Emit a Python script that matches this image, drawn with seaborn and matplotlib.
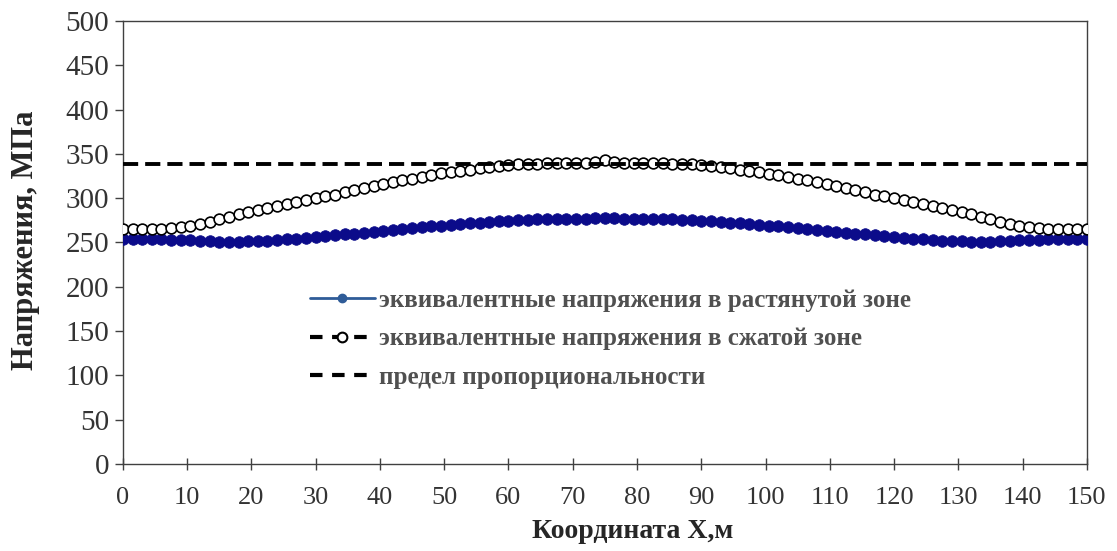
import matplotlib
matplotlib.use("Agg")
import matplotlib.pyplot as plt
from matplotlib.lines import Line2D
import seaborn as sns

# Координата X, м (шаг 1.5 м)
x_coord = [0, 1.5, 3, 4.5, 6, 7.5, 9, 10.5, 12, 13.5, 15, 16.5, 18, 19.5, 21, 22.5,
           24, 25.5, 27, 28.5, 30, 31.5, 33, 34.5, 36, 37.5, 39, 40.5, 42, 43.5, 45,
           46.5, 48, 49.5, 51, 52.5, 54, 55.5, 57, 58.5, 60, 61.5, 63, 64.5, 66, 67.5,
           69, 70.5, 72, 73.5, 75, 76.5, 78, 79.5, 81, 82.5, 84, 85.5, 87, 88.5, 90,
           91.5, 93, 94.5, 96, 97.5, 99, 100.5, 102, 103.5, 105, 106.5, 108, 109.5,
           111, 112.5, 114, 115.5, 117, 118.5, 120, 121.5, 123, 124.5, 126, 127.5, 129,
           130.5, 132, 133.5, 135, 136.5, 138, 139.5, 141, 142.5, 144, 145.5, 147,
           148.5, 150]

# эквивалентные напряжения в растянутой зоне, МПа
tension = [254, 254, 254, 254, 254, 253, 253, 253, 252, 252, 251, 251, 251, 252, 252,
           252, 253, 254, 254, 255, 256, 257, 258, 259, 260, 261, 262, 263, 264, 265,
           266, 267, 268, 269, 270, 271, 272, 272, 273, 274, 274, 275, 275, 276, 276,
           276, 276, 277, 277, 278, 278, 278, 277, 277, 276, 276, 276, 276, 275, 275,
           274, 274, 273, 272, 272, 271, 270, 269, 268, 267, 266, 265, 264, 263, 262,
           261, 260, 259, 258, 257, 256, 255, 254, 254, 253, 252, 252, 252, 251, 251,
           251, 252, 252, 253, 253, 253, 254, 254, 254, 254, 254]

# эквивалентные напряжения в сжатой зоне, МПа
compression = [265, 265, 265, 265, 265, 266, 267, 269, 271, 273, 276, 279, 282, 284,
               287, 289, 291, 293, 296, 298, 300, 302, 304, 307, 309, 312, 314, 316,
               318, 320, 322, 324, 326, 328, 329, 331, 332, 334, 335, 336, 337, 338,
               339, 339, 340, 340, 340, 340, 340, 341, 343, 341, 340, 340, 340, 340,
               340, 339, 339, 338, 337, 336, 335, 334, 332, 331, 329, 327, 326, 324,
               322, 320, 318, 316, 314, 312, 309, 307, 304, 302, 300, 298, 296, 293,
               291, 289, 287, 284, 282, 279, 276, 273, 271, 269, 267, 266, 265, 265,
               265, 265, 265]

# предел пропорциональности, МПа
prop_limit = 338

labels = ["эквивалентные напряжения в растянутой зоне",
          "эквивалентные напряжения в сжатой зоне",
          "предел пропорциональности"]

sns.set_style("white")
plt.rcParams["font.family"] = ["Liberation Serif", "DejaVu Serif"]

fig = plt.figure(figsize=(11.17, 5.51), dpi=100)
ax = fig.add_axes([0.110, 0.158, 0.863, 0.804])

sns.scatterplot(x=x_coord, y=tension, ax=ax, s=70, color="#0b0b8a",
                edgecolor="#0b0b8a", linewidth=0.5, zorder=3)
sns.scatterplot(x=x_coord, y=compression, ax=ax, s=60, facecolor="white",
                edgecolor="black", linewidth=1.2, zorder=3)
ax.axhline(prop_limit, color="black", lw=2.8, ls=(0, (3.9, 1.8)), zorder=4)

ax.set_xlim(0, 150)
ax.set_ylim(0, 500)
ax.set_xticks(range(0, 151, 10))
ax.set_yticks(range(0, 501, 50))

for side in ["left", "bottom", "right", "top"]:
    ax.spines[side].set_color("#404040")
    ax.spines[side].set_linewidth(1.0)

ax.tick_params(axis="x", direction="inout", length=9, width=1, color="#404040",
               labelsize=19, labelcolor="#333333", pad=12, bottom=True)
ax.tick_params(axis="y", direction="out", length=6, width=1, color="#404040",
               labelsize=21, labelcolor="#333333", pad=4, left=True)

ax.set_xlabel("Координата X,м", fontsize=20, fontweight="bold", color="#262626")
ax.set_ylabel("Напряжения, МПа", fontsize=22, fontweight="bold", color="#262626")
ax.xaxis.set_label_coords(0.529, -0.125)
ax.yaxis.set_label_coords(-0.086, 0.505)

handles = [
    Line2D([0], [0], color="#2f5c98", lw=2, marker="o", markersize=6,
           markerfacecolor="#2f5c98", markeredgecolor="#2f5c98"),
    Line2D([0], [0], color="black", lw=3, ls=(0, (3, 2.3)), marker="o",
           markersize=7, markerfacecolor="white", markeredgecolor="black",
           markeredgewidth=1.5),
    Line2D([0], [0], color="black", lw=3, ls=(0, (3, 2.3))),
]
ax.legend(handles, labels, loc="upper left", bbox_to_anchor=(0.194, 0.395),
          frameon=False, borderpad=0, borderaxespad=0, handlelength=2.6,
          handletextpad=0.15, labelspacing=0.62,
          prop={"family": "Liberation Serif", "weight": "bold", "size": 18},
          labelcolor="#505050")

fig.savefig("out.png", dpi=100)
